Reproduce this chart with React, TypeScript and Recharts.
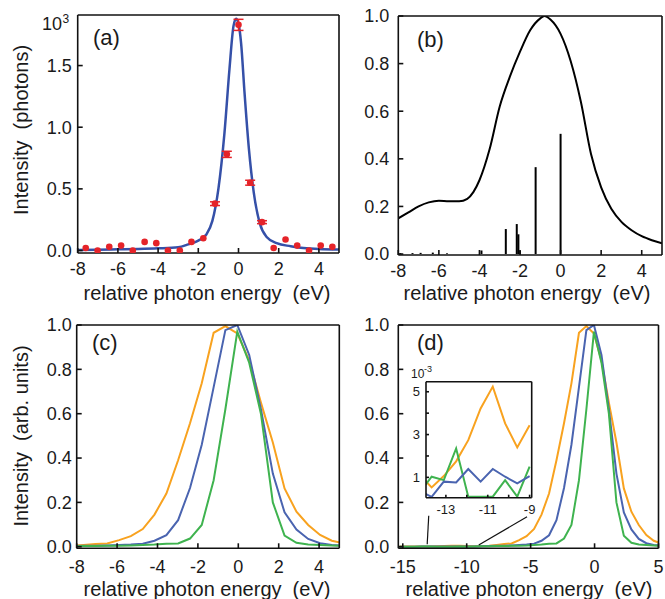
import React from 'react'
import { ComposedChart, LineChart, Line, Scatter, ErrorBar, XAxis, YAxis, ReferenceLine } from 'recharts'

const W = 665
const H = 599

// (a) measured photon counts (x10^3) and fitted profile
const aPointEnergy = [-7.6, -7.01, -6.43, -5.84, -5.26, -4.67, -4.09, -3.51, -2.92, -2.34, -1.75, -1.17, -0.58, 0, 0.58, 1.17, 1.75, 2.34, 2.92, 3.51, 4.09, 4.67]
const aPointValue = [0.02, 0.0, 0.03, 0.04, 0.0, 0.07, 0.06, 0.0, 0.0, 0.07, 0.1, 0.38, 0.78, 1.83, 0.55, 0.23, 0.02, 0.09, 0.04, 0.0, 0.04, 0.03]
const aPointErr = [0, 0, 0, 0, 0, 0, 0, 0, 0, 0, 0, 0.015, 0.025, 0.045, 0.02, 0.012, 0, 0, 0, 0, 0, 0]
const aFitEnergy = [-8, -7, -6, -5, -4, -3, -2.5, -2, -1.6, -1.3, -1.0, -0.7, -0.45, -0.25, -0.12, 0, 0.13, 0.3, 0.52, 0.76, 1.06, 1.4, 1.9, 2.6, 3.1, 4, 5]
const aFitValue = [0.005, 0.007, 0.01, 0.013, 0.018, 0.027, 0.05, 0.08, 0.13, 0.24, 0.5, 0.95, 1.47, 1.82, 1.88, 1.84, 1.68, 1.28, 0.82, 0.47, 0.22, 0.11, 0.06, 0.035, 0.022, 0.013, 0.008]

// (b) spectrum and line strengths
const bEnergy = [-8, -7.5, -7, -6.5, -6, -5.5, -5, -4.6, -4.3, -4, -3.5, -3, -2.5, -2, -1.5, -1, -0.8, -0.5, 0, 0.5, 1, 1.5, 2, 2.5, 3, 3.5, 4, 4.5, 5]
const bValue = [0.15, 0.175, 0.2, 0.217, 0.224, 0.222, 0.222, 0.232, 0.26, 0.31, 0.44, 0.62, 0.745, 0.85, 0.94, 0.99, 1.0, 0.985, 0.925, 0.81, 0.64, 0.42, 0.28, 0.19, 0.135, 0.1, 0.075, 0.058, 0.045]
const bStickEnergy = [-7.9, -7.3, -6.9, -6.3, -5.6, -3.9, -2.7, -2.16, -2.08, -2.0, -1.23, 0]
const bStickValue = [0.004, 0.004, 0.005, 0.006, 0.003, 0.015, 0.105, 0.126, 0.083, 0.015, 0.365, 0.505]

// (c) three normalised spectra
const cEnergy = [-8.24, -7.66, -7.07, -6.49, -5.9, -5.32, -4.73, -4.15, -3.56, -2.98, -2.39, -1.81, -1.22, -0.64, -0.05, 0.54, 1.12, 1.71, 2.29, 2.88, 3.46, 4.05, 4.63, 5.22]
const cOrange = [0.004, 0.008, 0.012, 0.015, 0.03, 0.048, 0.08, 0.145, 0.24, 0.39, 0.557, 0.737, 0.965, 0.995, 0.962, 0.84, 0.65, 0.47, 0.263, 0.158, 0.098, 0.053, 0.027, 0.015]
const cBlue = [0.003, 0.004, 0.005, 0.006, 0.008, 0.01, 0.014, 0.027, 0.052, 0.12, 0.265, 0.46, 0.72, 0.977, 1.0, 0.865, 0.62, 0.33, 0.155, 0.078, 0.035, 0.016, 0.008, 0.004]
const cGreen = [0.002, 0.003, 0.003, 0.004, 0.005, 0.006, 0.008, 0.01, 0.014, 0.015, 0.037, 0.098, 0.3, 0.62, 0.97, 0.83, 0.6, 0.2, 0.05, 0.018, 0.01, 0.008, 0.006, 0.004]

// (d) low-energy tail, same spectra continue with (c) values
const dTailEnergy = [-15.26, -14.68, -14.09, -13.51, -12.92, -12.34, -11.75, -11.17, -10.58, -10.0, -9.41, -8.83]
const dTailOrange = [0.001, 0.001, 0.001, 0.0008, 0.0012, 0.0018, 0.003, 0.0045, 0.005, 0.0035, 0.0026, 0.0035]
const dTailBlue = [0.0004, 0.0004, 0.0003, 0.0007, 0.0008, 0.0012, 0.0008, 0.0012, 0.001, 0.0008, 0.001, 0.002]
const dTailGreen = [0.0003, 0.0003, 0.0005, 0.0009, 0.0015, 0.0001, 0.0001, 0.0001, 0.0008, 0.0001, 0.0012, 0.002]

// inset of (d), units of 10^-3
const insetEnergy = [-14.26, -13.68, -13.1, -12.51, -11.93, -11.34, -10.76, -10.17, -9.59, -9.0]
const insetOrange = [1.12, 0.53, 1.06, 1.75, 2.74, 4.22, 5.24, 3.52, 2.4, 3.44]
const insetGreen = [0.29, 1.03, 0.87, 2.35, 0.1, 0.1, 0.1, 0.87, 0.1, 1.5]
const insetBlue = [0.37, 0.09, 0.8, 0.76, 1.39, 0.8, 1.39, 1.03, 0.72, 1.06]

const ticksEight = [-8, -6, -4, -2, 0, 2, 4]
const ticksFifteen = [-15, -10, -5, 0, 5]
const ticksPhotons = [0, 0.5, 1, 1.5]
const ticksUnit = [0, 0.2, 0.4, 0.6, 0.8, 1]
const ticksInsetX = [-13, -12, -11, -10, -9]
const ticksInsetY = [1, 2, 3, 4, 5]

const ORANGE = '#f8a21f'
const BLUE = '#4a64b0'
const GREEN = '#3fb34f'
const FIT = '#3550a8'
const RED = '#e52329'

const fontFam = '"Liberation Sans", Arial, Helvetica, sans-serif'
const frameStroke = { stroke: '#111', strokeWidth: 1.6 }

const aPoints = aPointEnergy.map((x, i) => ({ x, y: aPointValue[i], err: aPointErr[i] }))
const aFit = aFitEnergy.map((x, i) => ({ x, y: aFitValue[i] }))
const bCurve = bEnergy.map((x, i) => ({ x, y: bValue[i] }))
const cData = cEnergy.map((x, i) => ({ x, o: cOrange[i], b: cBlue[i], g: cGreen[i] }))
const dData = [
  ...dTailEnergy.map((x, i) => ({ x, o: dTailOrange[i], b: dTailBlue[i], g: dTailGreen[i] })),
  ...cData,
]
const insetData = insetEnergy.map((x, i) => ({ x, o: insetOrange[i], b: insetBlue[i], g: insetGreen[i] }))

type FrameOpts = {
  xDomain: [number, number]
  xTicks: number[]
  yDomain: [number, number]
  yTicks: number[]
  xFormat?: (v: number) => string
  yFormat?: (v: number) => string
  xGap: number
  yGap: number
  tickLen: number
  font: number
}

// box frame with inward ticks on all four sides (axes are 1px thick, margins are reduced by 1)
function frameAxes(o: FrameOpts) {
  const tk = { fontSize: o.font, fill: '#1a1a1a', fontFamily: fontFam }
  return [
    <XAxis key="xb" type="number" dataKey="x" domain={o.xDomain} ticks={o.xTicks} allowDataOverflow interval={0}
      height={1} tickSize={-o.tickLen} tickMargin={o.xGap + o.tickLen} tick={tk} tickFormatter={o.xFormat}
      axisLine={frameStroke} tickLine={frameStroke} />,
    <XAxis key="xt" xAxisId="top" orientation="top" type="number" dataKey="x" domain={o.xDomain} ticks={o.xTicks}
      allowDataOverflow interval={0} height={1} tickSize={-o.tickLen} tick={false} axisLine={frameStroke} tickLine={frameStroke} />,
    <YAxis key="yl" type="number" domain={o.yDomain} ticks={o.yTicks} allowDataOverflow interval={0}
      width={1} tickSize={-o.tickLen} tickMargin={o.yGap + o.tickLen} tick={tk} tickFormatter={o.yFormat}
      axisLine={frameStroke} tickLine={frameStroke} />,
    <YAxis key="yr" yAxisId="right" orientation="right" type="number" domain={o.yDomain} ticks={o.yTicks}
      allowDataOverflow interval={0} width={1} tickSize={-o.tickLen} tick={false} axisLine={frameStroke} tickLine={frameStroke} />,
  ]
}

// plot box in page pixels -> chart margins
const box = (x0: number, y0: number, x1: number, y1: number) => ({
  left: x0 - 1, top: y0 - 1, right: W - x1 - 1, bottom: H - y1 - 1,
})

const oneDecimal = (v: number) => v.toFixed(1)
const oddOnly = (v: number) => (v % 2 ? String(v) : '')

const layer: React.CSSProperties = { position: 'absolute', left: 0, top: 0 }

function Dot(props: any) {
  return <circle cx={props.cx} cy={props.cy} r={3.3} fill={RED} />
}

export default function App() {
  const title = { fontSize: 20, fill: '#1a1a1a', fontFamily: fontFam, whiteSpace: 'pre' } as React.CSSProperties
  const panel = { fontSize: 22, fill: '#1a1a1a', fontFamily: fontFam } as React.CSSProperties

  return (
    <div style={{ position: 'absolute', left: 0, top: 0, width: W, height: H, background: '#fff', fontFamily: fontFam }}>
      {/* (a) */}
      <div style={layer}>
        <ComposedChart width={W} height={H} margin={box(77.7, 15, 339, 253)}>
          {frameAxes({ xDomain: [-8, 5], xTicks: ticksEight, yDomain: [-0.02, 1.91], yTicks: ticksPhotons,
            yFormat: oneDecimal, xGap: 9.5, yGap: 6, tickLen: 5, font: 18 })}
          <Line data={aFit} dataKey="y" type="monotone" stroke={FIT} strokeWidth={2.5} dot={false} isAnimationActive={false} />
          <Scatter data={aPoints} dataKey="y" shape={<Dot />} isAnimationActive={false}>
            <ErrorBar dataKey="err" direction="y" width={5} stroke={RED} strokeWidth={1.5} />
          </Scatter>
        </ComposedChart>
      </div>

      {/* (b) */}
      <div style={layer}>
        <ComposedChart width={W} height={H} margin={box(398.3, 16, 662, 255)}>
          {frameAxes({ xDomain: [-8, 5], xTicks: ticksEight, yDomain: [-0.004, 1], yTicks: ticksUnit,
            yFormat: oneDecimal, xGap: 9.5, yGap: 9, tickLen: 5, font: 18 })}
          <Line data={bCurve} dataKey="y" type="monotone" stroke="#000" strokeWidth={2} dot={false} isAnimationActive={false} />
          {bStickEnergy.map((x, i) => (
            <ReferenceLine key={i} segment={[{ x, y: 0 }, { x, y: bStickValue[i] }]} stroke="#000" strokeWidth={2} />
          ))}
        </ComposedChart>
      </div>

      {/* (c) */}
      <div style={layer}>
        <LineChart width={W} height={H} data={cData} margin={box(76.7, 325, 339.3, 548.3)}>
          {frameAxes({ xDomain: [-8, 5], xTicks: ticksEight, yDomain: [-0.007, 1], yTicks: ticksUnit,
            yFormat: oneDecimal, xGap: 11.5, yGap: 5, tickLen: 5, font: 18 })}
          <Line dataKey="o" type="linear" stroke={ORANGE} strokeWidth={2} dot={false} isAnimationActive={false} />
          <Line dataKey="b" type="linear" stroke={BLUE} strokeWidth={2} dot={false} isAnimationActive={false} />
          <Line dataKey="g" type="linear" stroke={GREEN} strokeWidth={2} dot={false} isAnimationActive={false} />
        </LineChart>
      </div>

      {/* (d) */}
      <div style={layer}>
        <LineChart width={W} height={H} data={dData} margin={box(398.3, 325, 658.5, 548.3)}>
          {frameAxes({ xDomain: [-15.35, 5], xTicks: ticksFifteen, yDomain: [-0.007, 1], yTicks: ticksUnit,
            yFormat: oneDecimal, xGap: 11.5, yGap: 9, tickLen: 5, font: 18 })}
          <Line dataKey="o" type="linear" stroke={ORANGE} strokeWidth={2} dot={false} isAnimationActive={false} />
          <Line dataKey="b" type="linear" stroke={BLUE} strokeWidth={2} dot={false} isAnimationActive={false} />
          <Line dataKey="g" type="linear" stroke={GREEN} strokeWidth={2} dot={false} isAnimationActive={false} />
          <ReferenceLine segment={[{ x: -12.97, y: 0.14 }, { x: -13.09, y: 0.011 }]} stroke="#111" strokeWidth={1.2} />
          <ReferenceLine segment={[{ x: -5.28, y: 0.135 }, { x: -9.06, y: 0.008 }]} stroke="#111" strokeWidth={1.2} />
        </LineChart>
      </div>

      {/* inset of (d) */}
      <div style={layer}>
        <LineChart width={W} height={H} data={insetData} margin={box(426, 381.7, 531.7, 497.7)}>
          {frameAxes({ xDomain: [-13.95, -8.9], xTicks: ticksInsetX, yDomain: [0.05, 5.47], yTicks: ticksInsetY,
            xFormat: oddOnly, yFormat: oddOnly, xGap: 7.3, yGap: 6, tickLen: 3, font: 13 })}
          <Line dataKey="o" type="linear" stroke={ORANGE} strokeWidth={2} dot={false} isAnimationActive={false} />
          <Line dataKey="g" type="linear" stroke={GREEN} strokeWidth={2} dot={false} isAnimationActive={false} />
          <Line dataKey="b" type="linear" stroke={BLUE} strokeWidth={2} dot={false} isAnimationActive={false} />
        </LineChart>
      </div>

      {/* titles and panel letters */}
      <svg width={W} height={H} style={{ ...layer, pointerEvents: 'none' }}>
        <text x={93} y={45.4} style={panel}>(a)</text>
        <text x={417} y={47} style={panel}>(b)</text>
        <text x={92} y={350.4} style={panel}>(c)</text>
        <text x={417} y={350.4} style={panel}>(d)</text>

        <text x={42} y={30} style={{ ...panel, fontSize: 18 }}>10</text>
        <text x={62.5} y={23} style={{ ...panel, fontSize: 12 }}>3</text>
        <text x={411} y={377.5} style={{ ...panel, fontSize: 12 }}>10</text>
        <text x={424} y={372} style={{ ...panel, fontSize: 9 }}>-3</text>

        <text x={207} y={299.5} textAnchor="middle" style={title}>relative photon energy  (eV)</text>
        <text x={527} y={299.5} textAnchor="middle" style={title}>relative photon energy  (eV)</text>
        <text x={207} y={596} textAnchor="middle" style={title}>relative photon energy  (eV)</text>
        <text x={529} y={596} textAnchor="middle" style={title}>relative photon energy  (eV)</text>

        <text x={28} y={130} textAnchor="middle" transform="rotate(-90 28 130)" style={title}>Intensity  (photons)</text>
        <text x={28} y={436} textAnchor="middle" transform="rotate(-90 28 436)" style={title}>Intensity  (arb. units)</text>
      </svg>
    </div>
  )
}
